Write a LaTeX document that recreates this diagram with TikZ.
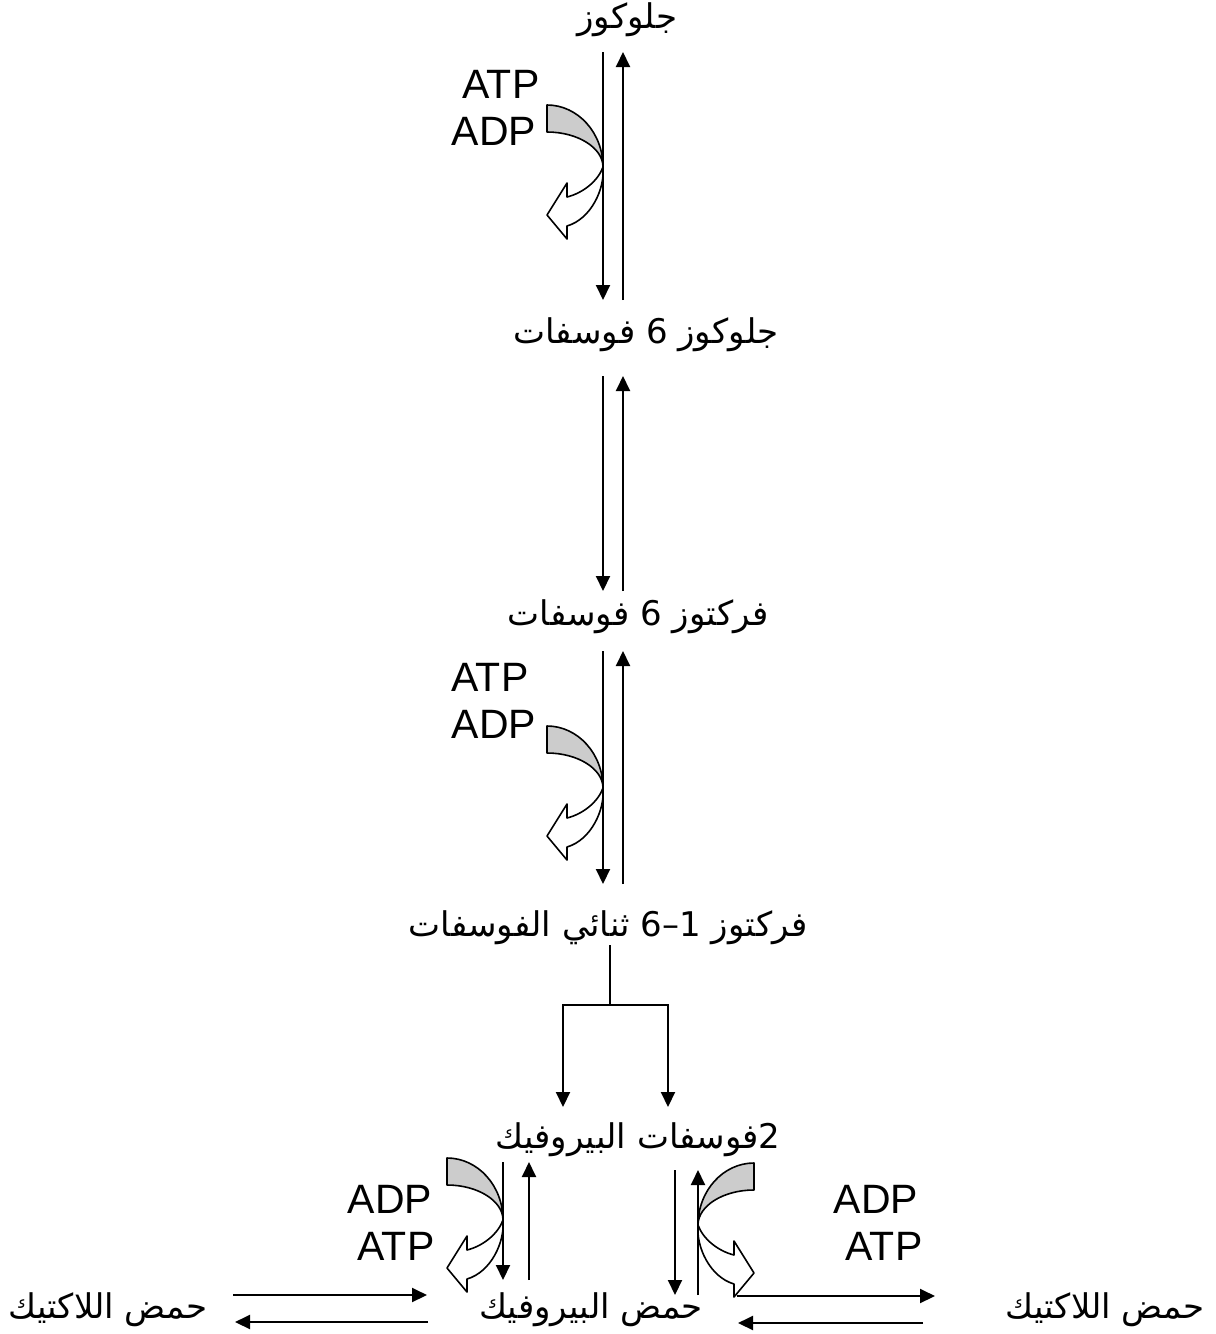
\documentclass[tikz,border=0pt]{standalone}
\usepackage{fontspec}
\setmainfont{Liberation Sans}
\newfontfamily\arabicfont[Script=Arabic]{DejaVu Sans}
\usepackage{tikz}
\usetikzlibrary{arrows.meta,positioning,calc}
\TeXXeTstate=1
\definecolor{band}{HTML}{CCCCCC}
\newcommand{\Ar}[1]{\beginR #1\endR}
\tikzset{
  flow/.style={-{Triangle[length=7.5pt,width=7pt]}, line width=1pt},
  chem/.style={font=\arabicfont\fontsize{17}{20}\selectfont, inner sep=0pt},
  nuc/.style={font=\fontsize{20.5}{24}\selectfont, inner sep=0pt},
  turn/.pic={
    \draw[line width=0.8pt, line join=round, fill=band]
      (-56,-62) .. controls (-25,-62) and (0,-34) .. (0,0)
      .. controls (0,-19) and (-25,-35) .. (-56,-35) -- cycle;
    \draw[line width=0.8pt, line join=round, fill=white]
      (0,0) .. controls (2,22) and (-12,52) .. (-36,59) -- (-36,72) -- (-56,48)
      -- (-36,16) -- (-36,30) .. controls (-20,26) and (-5,14) .. (0,0) -- cycle;
  },
}

\begin{document}
\begin{tikzpicture}[x=0.5pt, y=-0.5pt]
  \useasboundingbox (0,0) rectangle (1216,1334);

  \pic at (603,167) {turn};
  \pic at (603,788) {turn};
  \pic at (503,1220) {turn};
  \pic[xscale=-1] at (698,1225) {turn};

  \node[chem] (glc) at (627,20) {\Ar{جلوكوز}};
  \node[chem] (g6p) at (646,335) {\Ar{جلوكوز 6 فوسفات}};
  \node[chem] (f6p) at (638,617) {\Ar{فركتوز 6 فوسفات}};
  \node[chem] (fbp) at (608,928) {\Ar{فركتوز 1–6 ثنائي الفوسفات}};
  \node[chem] (pep) at (638,1140) {\Ar{2فوسفات البيروفيك}};
  \node[chem] (pyr) at (591,1310) {\Ar{حمض البيروفيك}};
  \node[chem] (lacL) at (108,1310) {\Ar{حمض اللاكتيك}};
  \node[chem] (lacR) at (1105,1310) {\Ar{حمض اللاكتيك}};

  \node[nuc] (atpA) at (501,84) {ATP};
  \node[nuc] (adpA) at (494,131) {ADP};
  \node[nuc] (atpB) at (490,677) {ATP};
  \node[nuc] (adpB) at (494,724) {ADP};
  \node[nuc] (adpC) at (390,1199) {ADP};
  \node[nuc] (atpC) at (396,1246) {ATP};
  \node[nuc] (adpD) at (876,1199) {ADP};
  \node[nuc] (atpD) at (884,1246) {ATP};

  \coordinate (s1t) at (613,52);   \coordinate (s1b) at (613,300);
  \coordinate (s2t) at (613,376);  \coordinate (s2b) at (613,591);
  \coordinate (s3t) at (613,651);  \coordinate (s3b) at (613,884);
  \coordinate (br) at (610,1005);
  \coordinate (lt) at (516,1162);  \coordinate (lb) at (516,1280);
  \coordinate (rt) at (686,1170);  \coordinate (rb) at (686,1295);
  \coordinate (hl) at (330,1309);  \coordinate (hr) at (836,1309);

  \draw[flow] ([xshift=-5pt]s1t) -- ([xshift=-5pt]s1b);
  \draw[flow] ([xshift=5pt]s1b) -- ([xshift=5pt]s1t);
  \draw[flow] ([xshift=-5pt]s2t) -- ([xshift=-5pt]s2b);
  \draw[flow] ([xshift=5pt]s2b) -- ([xshift=5pt]s2t);
  \draw[flow] ([xshift=-5pt]s3t) -- ([xshift=-5pt]s3b);
  \draw[flow] ([xshift=5pt]s3b) -- ([xshift=5pt]s3t);

  \draw[line width=1pt] (fbp.south -| br) -- (br);
  \draw[flow] ([xshift=0.5pt]br) -| (563,1107);
  \draw[flow] ([xshift=-0.5pt]br) -| (668,1107);

  \draw[flow] ([xshift=-6.5pt]lt) -- ([xshift=-6.5pt]lb);
  \draw[flow] ([xshift=6.5pt]lb) -- ([xshift=6.5pt]lt);
  \draw[flow] ([xshift=-5.5pt]rt) -- ([xshift=-5.5pt]rb);
  \draw[flow] ([xshift=6pt]rb) -- ([xshift=6pt]rt);

  \draw[flow] ([xshift=-48.5pt, yshift=7pt]hl) -- ([xshift=48.5pt, yshift=7pt]hl);
  \draw[flow] ([xshift=49pt, yshift=-6.5pt]hl) -- ([xshift=-47.5pt, yshift=-6.5pt]hl);
  \draw[flow] ([xshift=-49.5pt, yshift=6.5pt]hr) -- ([xshift=49.5pt, yshift=6.5pt]hr);
  \draw[flow] ([xshift=43.5pt, yshift=-7pt]hr) -- ([xshift=-49pt, yshift=-7pt]hr);
\end{tikzpicture}
\end{document}
